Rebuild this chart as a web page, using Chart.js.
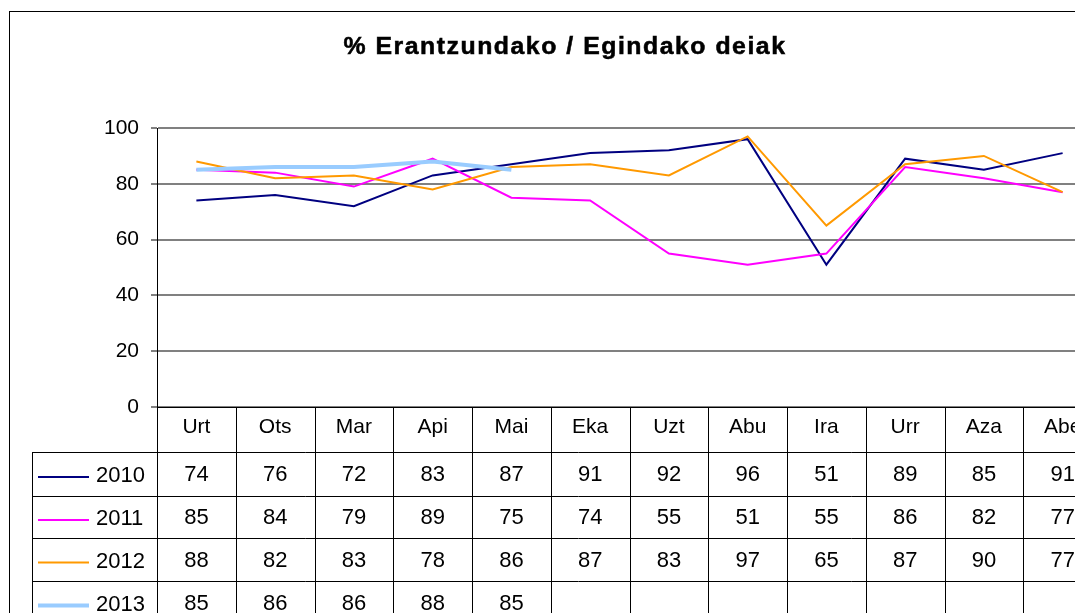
<!DOCTYPE html>
<html>
<head>
<meta charset="utf-8">
<script src="https://cdn.jsdelivr.net/npm/chart.js@4.4.1/dist/chart.umd.min.js"></script>
<style>
  html, body { margin: 0; padding: 0; overflow: hidden; background: #fff; }
  #wrap { width: 1125px; height: 640px; }
</style>
</head>
<body>
<div id="wrap"><canvas id="myChart" width="1125" height="640"></canvas></div>
<script>
const chartTitle = '% Erantzundako / Egindako deiak';
const months = ['Urt', 'Ots', 'Mar', 'Api', 'Mai', 'Eka', 'Uzt', 'Abu', 'Ira', 'Urr', 'Aza', 'Abe'];
const years = ['2010', '2011', '2012', '2013'];
const values2010 = [74, 76, 72, 83, 87, 91, 92, 96, 51, 89, 85, 91];
const values2011 = [85, 84, 79, 89, 75, 74, 55, 51, 55, 86, 82, 77];
const values2012 = [88, 82, 83, 78, 86, 87, 83, 97, 65, 87, 90, 77];
const values2013 = [85, 86, 86, 88, 85, null, null, null, null, null, null, null];

const FONT = "'Liberation Sans', Arial, sans-serif";

// frame, title and the data table under the plot (Excel style)
const tablePlugin = {
  id: 'dataTable',
  beforeDraw(chart) {
    const ctx = chart.ctx;
    ctx.save();
    ctx.fillStyle = '#fff';
    ctx.fillRect(0, 0, chart.width, chart.height);
    ctx.strokeStyle = '#000';
    ctx.lineWidth = 1;
    ctx.strokeRect(9.5, 11.5, chart.width + 10, chart.height + 10);
    // excel's bold title is wider than Arial bold, stretch it a bit
    ctx.translate(565, 53.5);
    ctx.scale(1.08, 1);
    ctx.font = 'bold 23px ' + FONT;
    ctx.letterSpacing = '1.4px';
    ctx.fillStyle = '#000';
    ctx.strokeStyle = '#000';
    ctx.lineWidth = 0.5;
    ctx.textAlign = 'center';
    ctx.textBaseline = 'alphabetic';
    ctx.fillText(chartTitle, 0, 0);
    ctx.strokeText(chartTitle, 0, 0);
    ctx.restore();
  },
  afterDraw(chart) {
    const ctx = chart.ctx;
    const xs = chart.scales.x;
    const area = chart.chartArea;
    const n = chart.data.labels.length;
    const w = (area.right - area.left) / n;
    const rows = [area.bottom, 452, 496, 538, 581, 624];
    const bottom = chart.height;
    ctx.save();
    ctx.strokeStyle = '#000';
    ctx.lineWidth = 1;
    ctx.beginPath();
    ctx.moveTo(area.left, Math.round(rows[0]) + 0.5);
    ctx.lineTo(chart.width, Math.round(rows[0]) + 0.5);
    for (let r = 1; r < rows.length; r++) {
      ctx.moveTo(32, rows[r] + 0.5);
      ctx.lineTo(chart.width, rows[r] + 0.5);
    }
    for (let k = 0; k <= n; k++) {
      const xk = Math.round(area.left + k * w) + 0.5;
      ctx.moveTo(xk, rows[0]);
      ctx.lineTo(xk, bottom);
    }
    ctx.moveTo(32.5, rows[1]);
    ctx.lineTo(32.5, bottom);
    ctx.stroke();

    ctx.font = '22px ' + FONT;
    ctx.fillStyle = '#000';
    ctx.textBaseline = 'middle';
    chart.data.datasets.forEach((ds, i) => {
      const cy = (rows[i + 1] + rows[i + 2]) / 2 + 1;
      ctx.textAlign = 'center';
      ds.data.forEach((v, j) => {
        if (v === null) return;
        ctx.fillText(String(v), xs.getPixelForValue(j), cy);
      });
      // legend key
      ctx.strokeStyle = ds.borderColor;
      ctx.lineWidth = ds.borderWidth;
      ctx.beginPath();
      ctx.moveTo(38, cy + 2);
      ctx.lineTo(89, cy + 2);
      ctx.stroke();
      ctx.textAlign = 'left';
      ctx.fillText(ds.label, 96, cy + 1);
    });
    ctx.restore();
  }
};

function renderChart() {
  const ctx = document.getElementById('myChart');

  new Chart(ctx, {
    type: 'line',
    data: {
      labels: months,
      datasets: [
        { label: years[0], data: values2010, borderColor: '#000080', borderWidth: 2, order: 3 },
        { label: years[1], data: values2011, borderColor: '#ff00ff', borderWidth: 2, order: 2 },
        { label: years[2], data: values2012, borderColor: '#ff9900', borderWidth: 2, order: 1 },
        { label: years[3], data: values2013, borderColor: '#99ccff', borderWidth: 4, order: 0 },
      ],
    },
    options: {
      responsive: false,
      animation: false,
      elements: {
        point: { radius: 0 },
        line: { tension: 0, fill: false },
      },
      layout: { padding: { left: 0, top: 128, right: 23, bottom: 0 } },
      plugins: {
        legend: { display: false },
        tooltip: { enabled: false },
        title: { display: false },
      },
      scales: {
        x: {
          offset: true,
          grid: { display: false, drawTicks: false },
          border: { display: false },
          ticks: { color: '#000', font: { family: FONT, size: 21 }, padding: 8, maxRotation: 0, autoSkip: false },
          afterFit: (s) => { s.height = 233; },
        },
        y: {
          min: 0,
          max: 100,
          ticks: { stepSize: 20, color: '#000', font: { family: FONT, size: 21 }, padding: 12 },
          grid: { color: '#808080', lineWidth: 2, tickLength: 6 },
          border: { display: true, color: '#000', width: 1 },
          afterFit: (s) => { s.width = 157; },
        },
      },
    },
    plugins: [tablePlugin],
  });
}

renderChart();
</script>
</body>
</html>
